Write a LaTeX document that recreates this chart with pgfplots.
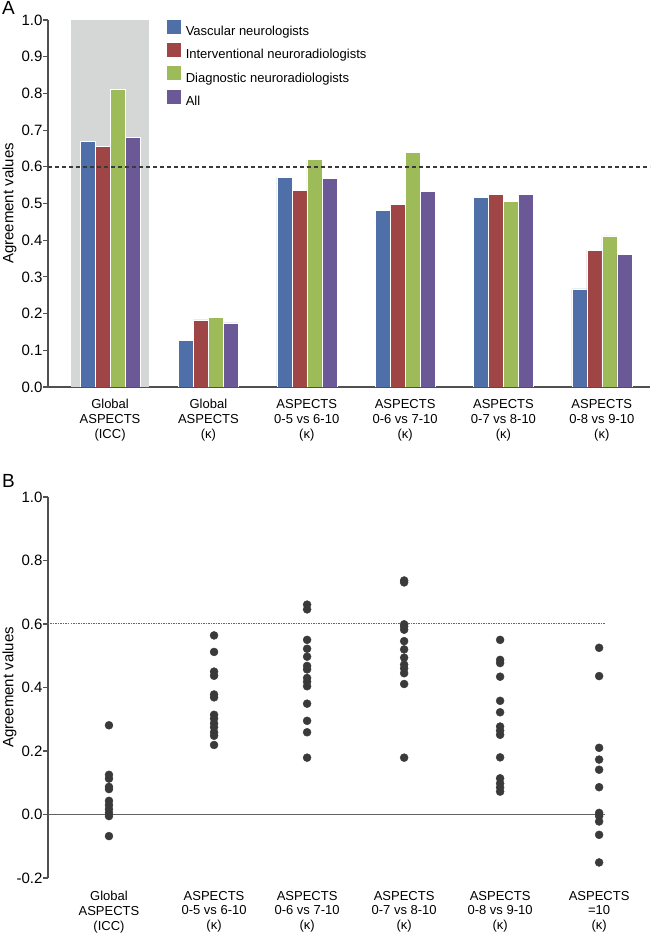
\documentclass[border=0pt]{standalone}
\usepackage{fontspec}
\setmainfont{Liberation Sans}
\usepackage{pgfplots}
\usepackage{pgfplotstable}
\pgfplotsset{compat=1.18}

\definecolor{cVasc}{HTML}{4F6FA8}
\definecolor{cInt}{HTML}{A04545}
\definecolor{cDiag}{HTML}{9EBB59}
\definecolor{cAll}{HTML}{6B5896}
\definecolor{boxgray}{HTML}{D5D6D6}
\definecolor{axgray}{HTML}{505050}
\definecolor{dotc}{HTML}{3A3A3A}

% panel A: agreement per reader group
\pgfplotstableread{
x vasc interv diag all
0 0.670 0.656 0.811 0.681
1 0.128 0.183 0.190 0.175
2 0.572 0.536 0.620 0.568
3 0.481 0.498 0.639 0.533
4 0.516 0.525 0.506 0.525
5 0.267 0.373 0.412 0.361
}\agreeA

% panel B: individual raters
\pgfplotstableread{
x y
0 0.281
0 0.125
0 0.113
0 0.087
0 0.080
0 0.043
0 0.030
0 0.017
0 0.005
0 -0.005
0 -0.068
1.072 0.564
1.072 0.512
1.072 0.450
1.072 0.437
1.072 0.378
1.072 0.369
1.072 0.314
1.072 0.302
1.072 0.287
1.072 0.275
1.072 0.259
1.072 0.248
1.072 0.219
2.021 0.661
2.021 0.646
2.021 0.550
2.021 0.522
2.021 0.497
2.021 0.468
2.021 0.457
2.021 0.430
2.021 0.418
2.021 0.404
2.021 0.349
2.021 0.295
2.021 0.259
2.021 0.179
3.011 0.737
3.011 0.731
3.011 0.599
3.011 0.592
3.011 0.582
3.011 0.546
3.011 0.520
3.011 0.494
3.011 0.472
3.011 0.460
3.011 0.445
3.011 0.411
3.011 0.179
3.99 0.550
3.99 0.487
3.99 0.477
3.99 0.434
3.99 0.358
3.99 0.322
3.99 0.277
3.99 0.264
3.99 0.251
3.99 0.180
3.99 0.114
3.99 0.098
3.99 0.085
3.99 0.072
5.0 0.525
5.0 0.436
5.0 0.210
5.0 0.173
5.0 0.141
5.0 0.086
5.0 0.005
5.0 -0.005
5.0 -0.022
5.0 -0.064
5.0 -0.151
}\raters

\pgfplotsset{
  sqlegend/.style={legend image code/.code={\fill[##1,/tikz/.cd] (0pt,-1.5pt) rectangle (15pt,13.5pt);}},
  common/.style={
    scale only axis, anchor=south west,
    axis lines=left,
    axis line style={-, draw=axgray, line width=1.3pt},
    tick align=outside, major tick length=4.5pt,
    ytick style={draw=axgray, line width=1.1pt},
    xtick style={draw=none},
    yticklabel style={font=\fontsize{15}{17}\selectfont, xshift=2.5pt,
      /pgf/number format/.cd, fixed, fixed zerofill, precision=1, assume math mode=true},
    xticklabel style={align=center, font=\fontsize{13}{14.8}\selectfont},
    ylabel={Agreement values},
    ylabel style={at={(axis description cs:0,0.5)}, rotate=0, yshift=28pt, anchor=south,
      font=\fontsize{15}{17}\selectfont},
  },
}

\begin{document}
\begin{tikzpicture}

% ---------- A ----------
\begin{axis}[common,
  at={(48pt,546pt)}, width=602pt, height=367pt,
  xmin=-0.631, xmax=5.49, ymin=0, ymax=1.0,
  ytick={0,0.1,0.2,0.3,0.4,0.5,0.6,0.7,0.8,0.9,1.0},
  xtick={0,1,2,3,4,5},
  xticklabels={{Global\\ASPECTS\\(ICC)},{Global\\ASPECTS\\(κ)},{ASPECTS\\0-5 vs 6-10\\(κ)},
    {ASPECTS\\0-6 vs 7-10\\(κ)},{ASPECTS\\0-7 vs 8-10\\(κ)},{ASPECTS\\0-8 vs 9-10\\(κ)}},
  xticklabel style={yshift=-4.5pt},
  legend style={draw=none, fill=none, at={(0.1955,1.0046)}, anchor=north west,
    font=\fontsize{13}{15}\selectfont, row sep=3.5pt, inner sep=0pt,
    nodes={inner sep=0pt, text height=9.5pt, text depth=3pt},
    /tikz/every odd column/.style={column sep=4.5pt}},
  legend cell align=left,
]
\addplot[fill=boxgray, draw=none, forget plot] coordinates {(-0.4,0) (-0.4,1.0) (0.4,1.0) (0.4,0)} -- cycle;
\addplot[ybar, bar width=15pt, bar shift=-22.5pt, fill=cVasc, draw=white, line width=0.4pt, sqlegend]
  table[x=x, y=vasc]{\agreeA};
\addplot[ybar, bar width=15pt, bar shift=-7.5pt, fill=cInt, draw=white, line width=0.4pt, sqlegend]
  table[x=x, y=interv]{\agreeA};
\addplot[ybar, bar width=15pt, bar shift=7.5pt, fill=cDiag, draw=white, line width=0.4pt, sqlegend]
  table[x=x, y=diag]{\agreeA};
\addplot[ybar, bar width=15pt, bar shift=22.5pt, fill=cAll, draw=white, line width=0.4pt, sqlegend]
  table[x=x, y=all]{\agreeA};
\addplot[forget plot, color=dotc, line width=1.5pt, dash pattern=on 4pt off 3pt] coordinates {(-0.631,0.6) (5.49,0.6)};
\legend{Vascular neurologists, Interventional neuroradiologists, Diagnostic neuroradiologists, All}
\end{axis}

% ---------- B ----------
\begin{axis}[common,
  at={(48pt,55pt)}, width=557pt, height=381pt,
  xmin=-0.622, xmax=5.06, ymin=-0.2, ymax=1.0,
  x axis line style={draw=none},
  ytick={-0.2,0,0.2,0.4,0.6,0.8,1.0},
  xtick={0,1.072,2.021,3.011,3.99,5.0},
  xticklabels={{Global\\ASPECTS\\(ICC)},{ASPECTS\\0-5 vs 6-10\\(κ)},{ASPECTS\\0-6 vs 7-10\\(κ)},
    {ASPECTS\\0-7 vs 8-10\\(κ)},{ASPECTS\\0-8 vs 9-10\\(κ)},{ASPECTS\\=10\\(κ)}},
  xticklabel style={yshift=-5pt},
]
\addplot[color=gray!80!black, line width=1pt, dash pattern=on 1.5pt off 1pt] coordinates {(-0.622,0.6) (5.06,0.6)};
\addplot[color=axgray!90, line width=1.3pt] coordinates {(-0.622,0) (5.06,0)};
\addplot[only marks, mark=*, mark size=4pt, mark options={fill=dotc, draw=dotc}] table[x=x, y=y]{\raters};
\end{axis}

\node[anchor=base west, inner sep=0pt, font=\fontsize{19}{20}\selectfont] at (2pt,918pt) {A};
\node[anchor=base west, inner sep=0pt, font=\fontsize{19}{20}\selectfont] at (2pt,445pt) {B};

\pgfresetboundingbox
\path[use as bounding box] (0pt,0pt) rectangle (656pt,933pt);
\end{tikzpicture}
\end{document}
